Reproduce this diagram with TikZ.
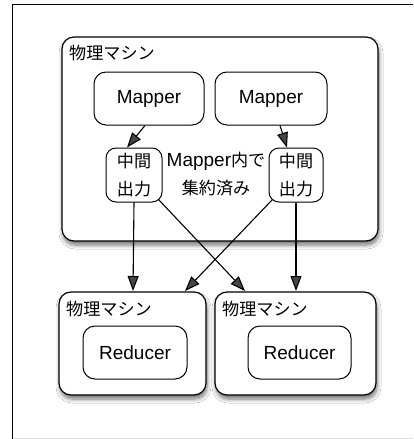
\documentclass[tikz,border=0pt]{standalone}
\usepackage{fontspec}
\setmainfont{Liberation Sans}
\newfontfamily\jp{Noto Sans CJK JP}[Scale=0.9]
\usetikzlibrary{shadows.blur,arrows.meta}
\begin{document}
\begin{tikzpicture}[x=1pt,y=-1pt,
  machine/.style={draw=black,line width=1.2pt,rounded corners=12pt,fill=white,
    blur shadow={shadow xshift=1pt,shadow yshift=-4pt,shadow blur steps=6,shadow opacity=55,shadow blur radius=4pt}},
  proc/.style={draw=black,line width=1pt,rounded corners=12pt,fill=white},
  lbl/.style={inner sep=0pt,anchor=west,font=\fontsize{19}{22}\selectfont\jp},
  conn/.style={line width=1.1pt,-{Triangle[length=15pt,width=11pt]}}]
\useasboundingbox (0,0) rectangle (413,439);
\fill[white] (0,0) rectangle (413,439);
\draw[line width=1pt] (12.5,439) -- (12.5,4.5) -- (413,4.5);
\draw[line width=1pt,black!13] (12.5,438) -- (413,438);
% top machine
\path[machine] (62,37) rectangle (378,241);
\node[lbl] (l1) at (69,53) {物理マシン};
\node[proc,minimum width=110pt,minimum height=53pt,font=\fontsize{19}{22}\selectfont] (m1) at (149,98.5) {Mapper};
\node[proc,minimum width=112pt,minimum height=53pt,font=\fontsize{19}{22}\selectfont] (m2) at (271,98.5) {Mapper};
\node[proc,rounded corners=10pt,minimum width=56pt,minimum height=54pt,inner sep=0pt,align=center,font=\fontsize{19}{28}\selectfont\jp] (i1) at (134,175) {中間\\出力};
\node[proc,rounded corners=10pt,minimum width=54pt,minimum height=54pt,inner sep=0pt,align=center,font=\fontsize{19}{28}\selectfont\jp] (i2) at (296,175) {中間\\出力};
\node[inner sep=0pt,align=center,font=\fontsize{19}{28}\selectfont] (t) at (216,174) {Mapper{\jp 内で}\\{\jp 集約済み}};
% bottom machines
\node[machine,minimum width=147pt,minimum height=103pt,inner sep=0pt] (b1) at (132.5,343.5) {};
\node[machine,minimum width=161pt,minimum height=103pt,inner sep=0pt] (b2) at (295.5,343.5) {};
\node[lbl] (l2) at (66,309) {物理マシン};
\node[lbl] (l3) at (222,309) {物理マシン};
\node[proc,minimum width=104pt,minimum height=53pt,font=\fontsize{19}{22}\selectfont] (r1) at (135,352.5) {Reducer};
\node[proc,minimum width=103pt,minimum height=53pt,font=\fontsize{19}{22}\selectfont] (r2) at (299.5,352.5) {Reducer};
% connectors
\coordinate (e1) at (133,291);
\coordinate (e2) at (185,291);
\coordinate (e3) at (245,291);
\coordinate (e4) at (296,291);
\draw[conn] ([xshift=-4pt]m1.south) -- ([xshift=-7pt]i1.north);
\draw[conn] ([xshift=9pt]m2.south) -- ([xshift=-9pt]i2.north);
\draw[conn] (i1.south) -- (e1);
\draw[conn] (i1.south east) ++(-4,-3) -- (e3);
\draw[conn] (i2.south west) ++(4,-3) -- (e2);
\draw[conn] (i2.south) -- (e4);
\end{tikzpicture}
\end{document}
